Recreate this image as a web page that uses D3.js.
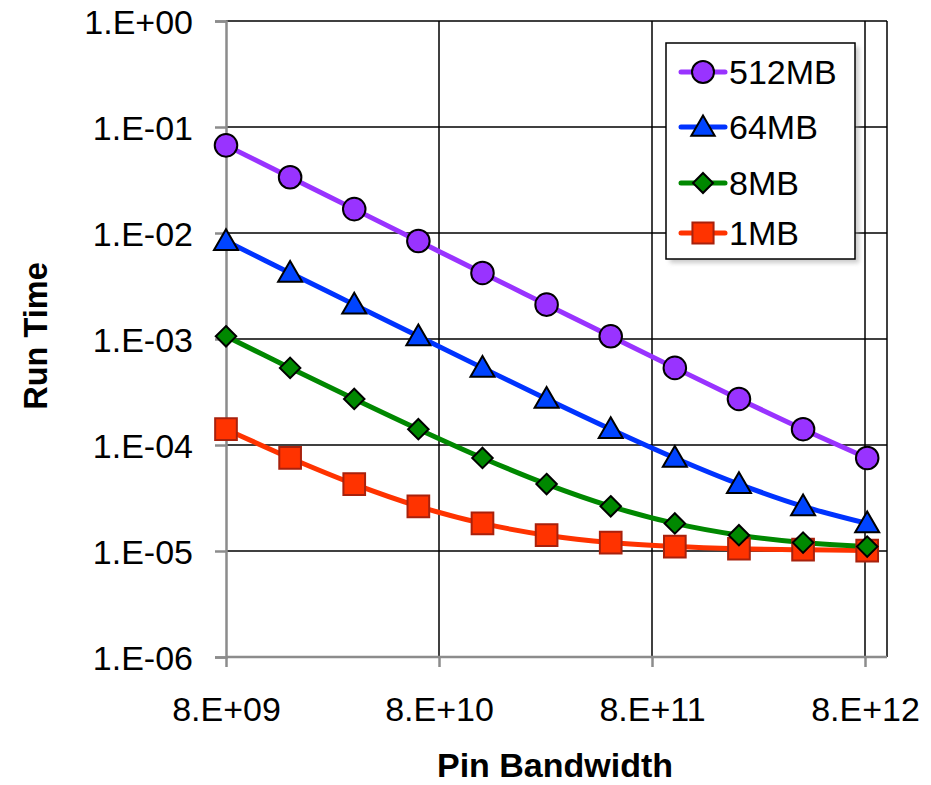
<!DOCTYPE html>
<html>
<head>
<meta charset="utf-8">
<script src="https://cdn.jsdelivr.net/npm/d3@7"></script>
<style>
  body { margin: 0; background: #fff; }
  text { font-family: "Liberation Sans", Arial, sans-serif; }
</style>
</head>
<body>
<svg id="chart" width="931" height="785"></svg>
<script>
// bandwidth points (bits/s), doubling each step
const bandwidth = [8e9, 1.6e10, 3.2e10, 6.4e10, 1.28e11, 2.56e11, 5.12e11, 1.024e12, 2.048e12, 4.096e12, 8.192e12];

const series512 = [0.0671, 0.0336, 0.0168, 0.0084, 0.0042, 0.00211, 0.00106, 0.000534, 0.000272, 0.000141, 0.0000755];
const series64 = [0.0084, 0.0042, 0.00211, 0.00106, 0.000534, 0.000272, 0.000141, 0.0000755, 0.0000428, 0.0000264, 0.0000182];
const series8 = [0.00106, 0.000534, 0.000272, 0.000141, 0.0000755, 0.0000428, 0.0000264, 0.0000182, 0.0000141, 0.0000120, 0.0000110];
const series1 = [0.000141, 0.0000755, 0.0000428, 0.0000264, 0.0000182, 0.0000141, 0.0000120, 0.0000110, 0.0000105, 0.0000103, 0.0000101];

const seriesNames = ['512MB', '64MB', '8MB', '1MB'];
const yTicks = [1e0, 1e-1, 1e-2, 1e-3, 1e-4, 1e-5, 1e-6];
const yTickLabels = ['1.E+00', '1.E-01', '1.E-02', '1.E-03', '1.E-04', '1.E-05', '1.E-06'];
const xTicks = [8e9, 8e10, 8e11, 8e12];
const xTickLabels = ['8.E+09', '8.E+10', '8.E+11', '8.E+12'];

// diamond = square turned 45 degrees
const diamondSquare = {
  draw(ctx, size) {
    const r = Math.sqrt(size / 2);
    ctx.moveTo(0, -r); ctx.lineTo(r, 0); ctx.lineTo(0, r); ctx.lineTo(-r, 0); ctx.closePath();
  }
};

const styles = [
  { line: '#9933ff', fill: '#9933ff', stroke: '#000', symbol: d3.symbolCircle, size: 400, dy: 0 },
  { line: '#0033ff', fill: '#0044ff', stroke: '#000', symbol: d3.symbolTriangle, size: 250, dy: 2 },
  { line: '#008800', fill: '#008800', stroke: '#000', symbol: diamondSquare, size: 210, dy: 0 },
  { line: '#ff3300', fill: '#ff3300', stroke: '#a8210c', symbol: d3.symbolSquare, size: 470, dy: 0 }
];

const svg = d3.select('#chart');
const plotLeft = 226, plotRight = 887, plotTop = 21, plotBottom = 657;

const x = d3.scaleLog().domain([8e9, 8e12]).range([plotLeft, 865]);
const y = d3.scaleLog().domain([1e-6, 1e0]).range([plotBottom, plotTop]);

// plot frame + gridlines
svg.append('line').attr('x1', plotLeft).attr('x2', plotRight).attr('y1', plotTop).attr('y2', plotTop)
  .attr('stroke', '#000').attr('stroke-width', 1.5);
svg.append('line').attr('x1', plotRight).attr('x2', plotRight).attr('y1', plotTop).attr('y2', plotBottom)
  .attr('stroke', '#000').attr('stroke-width', 1.5);

svg.append('g').selectAll('line').data(yTicks.slice(1, -1)).join('line')
  .attr('x1', plotLeft).attr('x2', plotRight)
  .attr('y1', d => y(d)).attr('y2', d => y(d))
  .attr('stroke', '#000').attr('stroke-width', 1.5);

svg.append('g').selectAll('line').data(xTicks.slice(1)).join('line')
  .attr('x1', d => x(d)).attr('x2', d => x(d))
  .attr('y1', plotTop).attr('y2', plotBottom)
  .attr('stroke', '#000').attr('stroke-width', 1.5);

// axes
const yAxis = svg.append('g').attr('transform', `translate(${plotLeft},0)`)
  .call(d3.axisLeft(y).tickValues(yTicks).tickFormat((d, i) => yTickLabels[i]).tickSize(11).tickPadding(22));
const xAxis = svg.append('g').attr('transform', `translate(0,${plotBottom})`)
  .call(d3.axisBottom(x).tickValues(xTicks).tickFormat((d, i) => xTickLabels[i]).tickSize(10).tickPadding(30));
xAxis.select('.domain').attr('d', `M${plotLeft},0H${plotRight}`);
[yAxis, xAxis].forEach(a => {
  a.attr('font-size', 34).attr('font-family', null);
  a.select('.domain').attr('stroke', '#8c8c8c').attr('stroke-width', 2.5);
  a.selectAll('.tick line').attr('stroke', '#8c8c8c').attr('stroke-width', 2.5);
  a.selectAll('.tick text').attr('fill', '#000');
});
yAxis.selectAll('.tick text').attr('dy', '0.36em');

// axis titles
svg.append('text').attr('x', 555).attr('y', 777).attr('text-anchor', 'middle')
  .attr('font-size', 34).attr('font-weight', 'bold').text('Pin Bandwidth');
svg.append('text').attr('transform', 'translate(47,336) rotate(-90)').attr('text-anchor', 'middle')
  .attr('font-size', 32.5).attr('font-weight', 'bold').text('Run Time');

// series
const allSeries = [series512, series64, series8, series1];
const line = d3.line().x((d, i) => x(bandwidth[i])).y(d => y(d)).curve(d3.curveCatmullRom.alpha(0.5));

const drawOrder = [3, 2, 1, 0];
drawOrder.forEach(si => {
  svg.append('path').datum(allSeries[si]).attr('d', line)
    .attr('fill', 'none').attr('stroke', styles[si].line).attr('stroke-width', 5);
});
drawOrder.forEach(si => {
  const st = styles[si];
  svg.append('g').selectAll('path').data(allSeries[si]).join('path')
    .attr('transform', (d, i) => `translate(${x(bandwidth[i])},${y(d) + st.dy})`)
    .attr('d', d3.symbol().type(st.symbol).size(st.size))
    .attr('fill', st.fill).attr('stroke', st.stroke).attr('stroke-width', 2);
});

// legend
const lg = svg.append('g');
lg.append('rect').attr('x', 670).attr('y', 47).attr('width', 189).attr('height', 216)
  .attr('fill', '#999').attr('opacity', 0.5).style('filter', 'blur(2px)');
lg.append('rect').attr('x', 666).attr('y', 43).attr('width', 189).attr('height', 216)
  .attr('fill', '#fff').attr('stroke', '#000').attr('stroke-width', 1.5);
const legendY = [72, 127, 183, 233];
seriesNames.forEach((name, i) => {
  const st = styles[i];
  lg.append('line').attr('x1', 681).attr('x2', 725).attr('y1', legendY[i]).attr('y2', legendY[i])
    .attr('stroke', st.line).attr('stroke-width', 5).attr('stroke-linecap', 'round');
  lg.append('path').attr('transform', `translate(703,${legendY[i] + st.dy})`)
    .attr('d', d3.symbol().type(st.symbol).size(st.size * 0.95))
    .attr('fill', st.fill).attr('stroke', st.stroke).attr('stroke-width', 2);
  lg.append('text').attr('x', 729).attr('y', legendY[i]).attr('dy', '0.36em')
    .attr('font-size', 34).text(name);
});
</script>
</body>
</html>
